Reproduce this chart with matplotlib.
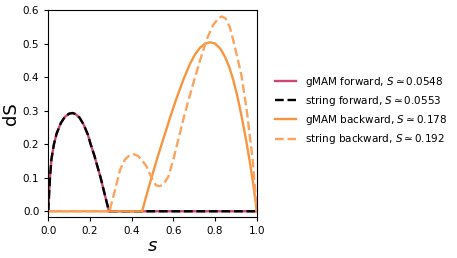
import matplotlib
matplotlib.use("Agg")
import matplotlib.pyplot as plt

# forward paths (gMAM and string overlap)
s_fwd = [0.0, 0.004, 0.008, 0.015, 0.027, 0.04, 0.06, 0.08, 0.10, 0.115,
         0.13, 0.15, 0.17, 0.19, 0.203, 0.22, 0.24, 0.251, 0.27, 0.291, 1.0]
ds_fwd = [0.0, 0.055, 0.10, 0.155, 0.20, 0.232, 0.263, 0.282, 0.291, 0.293,
          0.290, 0.279, 0.258, 0.228, 0.20, 0.168, 0.124, 0.10, 0.052, 0.0, 0.0]

# gMAM backward
s_gbw = [0.0, 0.45, 0.48, 0.52, 0.56, 0.587, 0.61, 0.648, 0.68, 0.704,
         0.728, 0.75, 0.776, 0.80, 0.825, 0.848, 0.868, 0.888, 0.908,
         0.928, 0.948, 0.968, 0.985, 1.0]
ds_gbw = [0.0, 0.0, 0.068, 0.153, 0.232, 0.285, 0.328, 0.393, 0.440, 0.468,
          0.488, 0.499, 0.504, 0.500, 0.485, 0.460, 0.430, 0.390, 0.340,
          0.280, 0.215, 0.142, 0.072, 0.0]

# string backward
s_sbw = [0.0, 0.293, 0.31, 0.32, 0.344, 0.368, 0.39, 0.41, 0.43, 0.45,
         0.472, 0.488, 0.50, 0.517, 0.535, 0.552, 0.575, 0.60, 0.624,
         0.648, 0.672, 0.696, 0.728, 0.76, 0.79, 0.815, 0.832, 0.85,
         0.87, 0.888, 0.91, 0.928, 0.952, 0.981, 1.0]
ds_sbw = [0.0, 0.0, 0.04, 0.063, 0.123, 0.155, 0.167, 0.170, 0.165, 0.152,
          0.133, 0.110, 0.094, 0.077, 0.075, 0.081, 0.102, 0.155, 0.215,
          0.275, 0.330, 0.383, 0.450, 0.513, 0.555, 0.575, 0.581,
          0.575, 0.550, 0.508, 0.450, 0.400, 0.300, 0.150, 0.0]

labels = [r"gMAM forward, $S \simeq 0.0548$",
          r"string forward, $S \simeq 0.0553$",
          r"gMAM backward, $S \simeq 0.178$",
          r"string backward, $S \simeq 0.192$"]

fig = plt.figure(figsize=(4.57, 2.58), dpi=100)
ax = fig.add_axes([0.1057, 0.159, 0.4562, 0.802])

ax.plot(s_fwd, ds_fwd, color="#cc4778", lw=1.7, label=labels[0])
ax.plot(s_fwd, ds_fwd, color="black", ls="--", lw=1.7, label=labels[1])
ax.plot(s_gbw, ds_gbw, color="#f89540", lw=1.7, label=labels[2])
ax.plot(s_sbw, ds_sbw, color="#fca35f", ls="--", lw=1.7, label=labels[3])

ax.set_xlim(0, 1)
ax.set_ylim(-0.017, 0.6)
ax.set_xticks([0, 0.2, 0.4, 0.6, 0.8, 1.0])
ax.set_yticks([0, 0.1, 0.2, 0.3, 0.4, 0.5, 0.6])
ax.tick_params(labelsize=7.5, length=3)
ax.set_xlabel(r"$s$", fontsize=13, labelpad=1)
ax.set_ylabel("dS", fontsize=13, labelpad=2)

ax.legend(loc="center left", bbox_to_anchor=(1.044, 0.515), frameon=False,
          fontsize=7.5, handlelength=2.0)

fig.savefig("out.png", dpi=100)
